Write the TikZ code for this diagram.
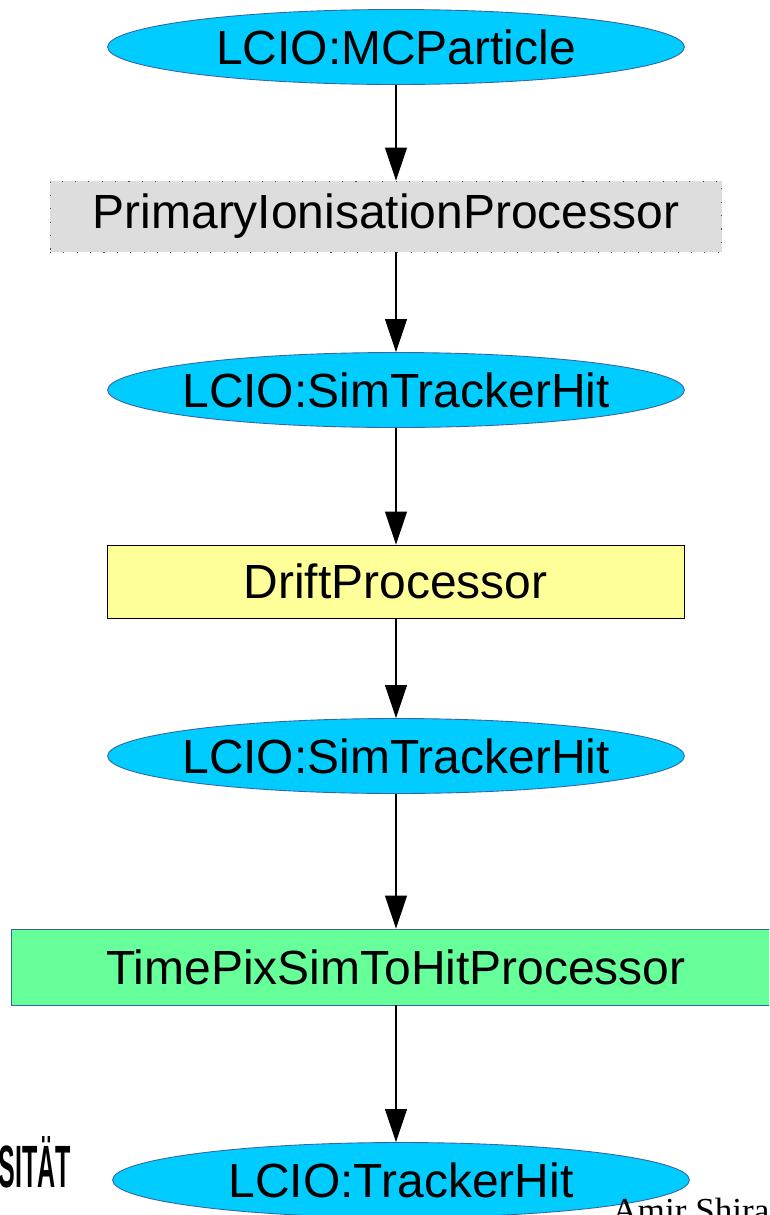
\documentclass[tikz,border=0pt]{standalone}
\usepackage{fontspec}
\setmainfont{Liberation Sans}
\newfontfamily\footserif{Liberation Serif}
\usetikzlibrary{shapes.geometric,arrows.meta}
\definecolor{lcioblue}{HTML}{00CCFF}
\definecolor{lcioedge}{HTML}{3465A4}
\definecolor{procgray}{HTML}{DDDDDD}
\definecolor{procyellow}{HTML}{FFFF99}
\definecolor{procgreen}{HTML}{66FF99}
\tikzset{
  collection/.style={ellipse, draw=lcioedge, fill=lcioblue, line width=0.5pt,
    minimum width=11.54cm, minimum height=1.5cm, inner xsep=-0.5cm, inner ysep=0pt,
    font=\fontsize{27.3}{30}\selectfont},
  processor/.style={rectangle, line width=0.5pt, inner sep=0pt,
    minimum height=1.46cm, font=\fontsize{27.3}{30}\selectfont},
  flow/.style={-{Triangle[length=0.66cm,width=0.44cm]}, line width=0.6pt}
}
\begin{document}
\begin{tikzpicture}[x=0.02cm, y=-0.02cm]
\useasboundingbox (0,0) rectangle (769,1215);
\clip (0,0) rectangle (769,1215);
\coordinate (axis) at (396,0);

\node[collection] (mc) at (396,47) {LCIO:MCParticle};
\node[processor, fill=procgray, draw=black!70, dash pattern=on 0.6pt off 7pt,
  minimum width=13.44cm, minimum height=1.42cm] (pip) at (386,216.5) {PrimaryIonisationProcessor};
\node[collection] (sth1) at (396,390) {LCIO:SimTrackerHit};
\node[processor, fill=procyellow, draw=black, minimum width=11.54cm] (drift) at (395.5,581.5) {DriftProcessor};
\node[collection] (sth2) at (396,756) {LCIO:SimTrackerHit};
\node[processor, fill=procgreen, draw=lcioedge, minimum width=15.4cm,
  minimum height=1.52cm] (tpx) at (396,967) {TimePixSimToHitProcessor};
\node[collection] (th) at (401,1180) {LCIO:TrackerHit};

% arrows along the common axis
\foreach \a/\b in {mc/pip, pip/sth1, sth1/drift, drift/sth2, sth2/tpx, tpx/th}
    \draw[flow] (axis |- \a.south) -- (axis |- \b.north);

% cut-off page footer
\node[anchor=west, inner sep=0pt, font=\bfseries\fontsize{34}{36}\selectfont] (uni) at (-2,1162) {\scalebox{0.42}[1]{SITÄT}};
\node[anchor=base west, inner sep=0pt, font=\footserif\fontsize{20}{24}\selectfont] (author) at (612,1222) {Amir Shira};
\end{tikzpicture}
\end{document}
